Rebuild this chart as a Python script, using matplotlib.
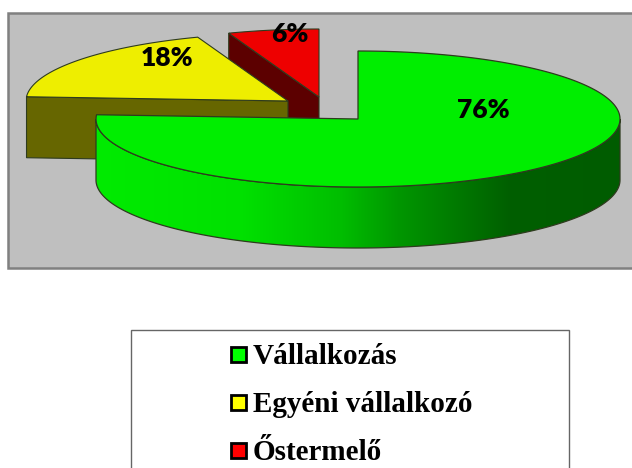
import numpy as np
import matplotlib
matplotlib.use('Agg')
import matplotlib.pyplot as plt
from matplotlib.patches import Polygon, Rectangle

# Slice shares, the labels show them rounded
categories = ['Vállalkozás', 'Egyéni vállalkozó', 'Őstermelő']
shares = [76, 18.4, 5.6]
top_colors = ['#00EE00', '#EEEE00', '#EE0000']
side_colors = [None, '#666600', '#5C0000']
legend_colors = ['#00FF00', '#FFFF00', '#FF0000']

# Slices are exploded, so each has its own centre (pixels)
centers = [(358, 119), (288, 101), (319, 97)]
label_pos = [(483, 110), (167, 58), (290, 34)]
legend_y = [354, 402, 450]
rx = 262
ry = 68
depth = 61
edge = '#2E3B1E'

# green side shading, left to right
grad_x = [96, 240, 340, 400, 510, 620]
grad_g = [235, 225, 190, 150, 95, 92]

fig = plt.figure(figsize=(6.32, 4.68), dpi=100, facecolor='white')
ax = fig.add_axes([0, 0, 1, 1])


def arc(center, a0, a1):
    t = np.radians(np.linspace(a0, a1, 200))
    return np.column_stack((center[0] + rx * np.cos(t), center[1] - ry * np.sin(t)))


# plot area
ax.add_patch(Rectangle((8, 13), 640, 255, fc='#BFBFBF', ec='#808080', lw=1.8, zorder=1))

# angles go clockwise from 12 o'clock
ends = 90 - np.cumsum([0] + shares) * 3.6
green_a0, green_a1 = ends[0], ends[1]
yellow_a0, yellow_a1 = ends[1], ends[2]
red_a0, red_a1 = ends[2], ends[3]

# red slice, the cut side faces the viewer
c = centers[2]
p = arc(c, red_a1 + 360, red_a0 + 360)
left = p[0] if p[0][0] < p[-1][0] else p[-1]
ax.add_patch(Polygon([left, c, (c[0], c[1] + depth), (left[0], left[1] + depth)],
                     fc=side_colors[2], ec=edge, lw=0.8, zorder=2))
ax.add_patch(Polygon(np.vstack(([c], arc(c, red_a0 + 360, red_a1 + 360))),
                     fc=top_colors[2], ec=edge, lw=0.8, zorder=3))

# yellow slice
c = centers[1]
p = arc(c, yellow_a0 + 360, yellow_a1 + 360)
ax.add_patch(Polygon([p[0], c, (c[0], c[1] + depth), (p[0][0], p[0][1] + depth)],
                     fc=side_colors[1], ec=edge, lw=0.8, zorder=4))
ax.add_patch(Polygon(np.vstack(([c], p)), fc=top_colors[1], ec=edge, lw=0.8, zorder=5))

# green slice: side with gradient, then the top
c = centers[0]
rim = arc(c, 0, -180)
side = np.vstack((rim, rim[::-1] + [0, depth]))
side_patch = Polygon(side, fc='none', ec='none', zorder=6)
ax.add_patch(side_patch)
xs = np.arange(grad_x[0], grad_x[-1] + 1)
g = np.interp(xs, grad_x, grad_g) / 255
rgb = np.zeros((1, len(xs), 3))
rgb[0, :, 1] = g
im = ax.imshow(rgb, extent=(grad_x[0], grad_x[-1], c[1] + ry + depth + 1, c[1] - ry),
               aspect='auto', interpolation='bilinear', zorder=6)
im.set_clip_path(side_patch)
ax.add_patch(Polygon(side, fc='none', ec=edge, lw=0.9, zorder=7))
ax.add_patch(Polygon(np.vstack(([c], arc(c, green_a0, green_a1))),
                     fc=top_colors[0], ec=edge, lw=0.9, zorder=8))

# data labels
for (x, y), v in zip(label_pos, shares):
    ax.text(x, y, f'{round(v)}%', ha='center', va='center', fontsize=19,
            fontweight='heavy', family='Lato', color='black', zorder=10)

# legend box runs off the bottom of the picture
ax.add_patch(Rectangle((131, 330), 438, 160, fc='white', ec='#666666', lw=1, zorder=1))
for y, name, col in zip(legend_y, categories, legend_colors):
    ax.add_patch(Rectangle((231, y - 7.5), 15, 15, fc=col, ec='black', lw=2, zorder=2))
    ax.text(253, y - 1, name, ha='left', va='center_baseline', fontsize=21, fontweight='bold',
            family='Liberation Serif', color='black', zorder=3)

ax.set_xlim(0, 632)
ax.set_ylim(468, 0)
ax.axis('off')

fig.savefig('out.png', dpi=100, facecolor='white')
